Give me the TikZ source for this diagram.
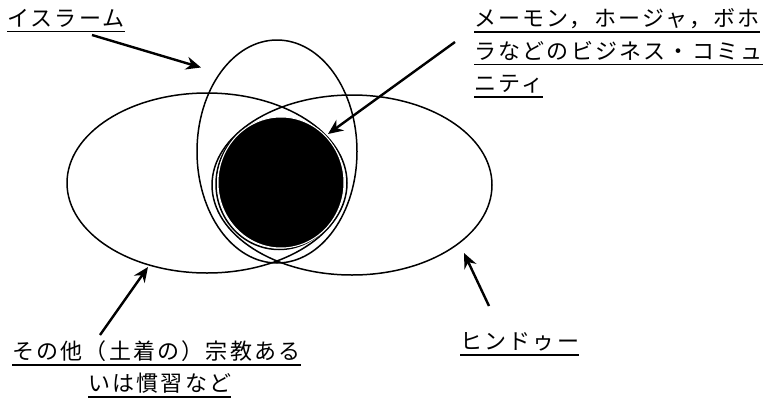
\documentclass[tikz,border=0pt]{standalone}
\usepackage{fontspec}
\newfontfamily\cjk{Noto Sans CJK JP}[LetterSpace=10]
\usetikzlibrary{arrows.meta}
\tikzset{
  ring/.style={draw=black, line width=1.5pt},
  pointer/.style={draw=black, line width=2.4pt, -{Stealth[length=15pt,width=13pt]}},
  lbl/.style={inner sep=0pt, anchor=base west, font=\cjk\fontsize{22}{24}\selectfont},
  uline/.style={draw=black, line width=1.2pt}
}
\begin{document}
\begin{tikzpicture}[x=1pt,y=-1pt]
\useasboundingbox (0,0) rectangle (765,399);
% ellipses
\coordinate (lc) at (207,183);
\coordinate (rc) at (352,185);
\coordinate (vc) at (277,151.5);
\draw[ring] (lc) ellipse [x radius=140, y radius=90];
\draw[ring] (rc) ellipse [x radius=140, y radius=90];
\draw[ring] (vc) ellipse [x radius=80, y radius=111.5];
% business community circle
\coordinate (bo) at (279,184);
\coordinate (bc) at (281,182.5);
\draw[ring] (bo) ellipse [x radius=63, y radius=65.5];
\fill[black, draw=white, line width=1pt] (bc) ellipse [x radius=63, y radius=65.5];
% labels
\node[lbl] (islamL) at (7,26) {イスラーム};
\node[lbl] (bizA) at (474,26.5) {メーモン，ホージャ，ボホ};
\node[lbl] (bizB) at (474,59) {ラなどのビジネス・コミュ};
\node[lbl] (bizC) at (474,91.5) {ニティ};
\node[lbl] (othA) at (12,359.5) {その他（土着の）宗教ある};
\node[lbl] (othB) at (88,391.5) {いは慣習など};
\node[lbl] (hinL) at (460,349.5) {ヒンドゥー};
\foreach \n in {islamL,bizA,bizB,bizC,othA,othB,hinL}{
  \draw[uline] ([yshift=-5.5pt]\n.base west) -- ([yshift=-5.5pt]\n.base east);
}
% arrows
\coordinate (islamT) at (92,35);
\coordinate (islamH) at (201,67.5);
\coordinate (bizT) at (455,42);
\coordinate (bizH) at (328,134);
\coordinate (othT) at (100,335);
\coordinate (othH) at (148,267);
\coordinate (hinT) at (489,306);
\coordinate (hinH) at (464,253);
\draw[pointer] (islamT) -- (islamH);
\draw[pointer] (bizT) -- (bizH);
\draw[pointer] (othT) -- (othH);
\draw[pointer] (hinT) -- (hinH);
\end{tikzpicture}
\end{document}
